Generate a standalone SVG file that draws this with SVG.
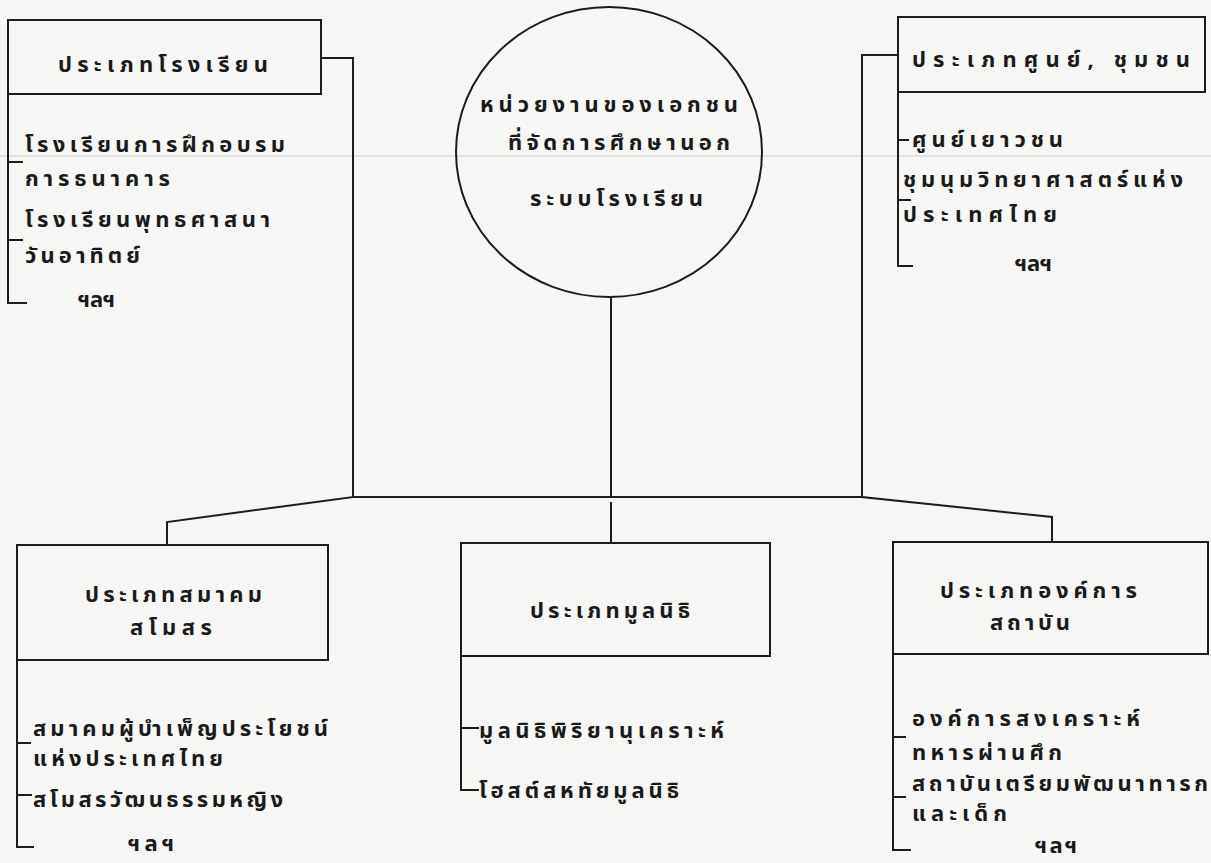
<svg xmlns="http://www.w3.org/2000/svg" width="1211" height="863" viewBox="0 0 1211 863">
<style>
.ln{fill:none;stroke:#1c1c1c;stroke-width:2;stroke-linecap:square;stroke-linejoin:miter}
.t{font-family:"Noto Sans Thai","Noto Sans Thai UI","Noto Looped Thai","Loma","Garuda","Norasi","Noto Sans","DejaVu Sans",sans-serif;font-size:22px;font-weight:bold;fill:#1a1a1a}
</style>
<rect width="1211" height="863" fill="#f6f6f4"/>
<line x1="0" y1="156" x2="1211" y2="156" stroke="#e2e2e0" stroke-width="2"/>
<g id="connectors">
<path class="ln" d="M321 58H353V497"/>
<path class="ln" d="M898 55H862V497"/>
<path class="ln" d="M353 497H862"/>
<path class="ln" d="M611 297V497"/>
<path class="ln" d="M611 503V543"/>
<path class="ln" d="M353 497L167 522V545"/>
<path class="ln" d="M862 497L1052 517V542"/>
</g>
<g id="node-school">
<rect class="ln" x="8" y="20" width="313" height="74"/>
<path class="ln" d="M8 94V303H26M8 162H22M8 240H22"/>
<text class="t" x="58" y="72" textLength="210" lengthAdjust="spacing">ประเภทโรงเรียน</text>
<text class="t" x="25" y="152" textLength="260" lengthAdjust="spacing">โรงเรียนการฝึกอบรม</text>
<text class="t" x="25" y="186" textLength="145" lengthAdjust="spacing">การธนาคาร</text>
<text class="t" x="25" y="227" textLength="245" lengthAdjust="spacing">โรงเรียนพุทธศาสนา</text>
<text class="t" x="25" y="263" textLength="115" lengthAdjust="spacing">วันอาทิตย์</text>
<text class="t" x="78" y="307" textLength="37" lengthAdjust="spacing">ฯลฯ</text>
</g>
<g id="node-center">
<ellipse class="ln" cx="609" cy="152" rx="153" ry="145"/>
<text class="t" x="480" y="112" textLength="258" lengthAdjust="spacing">หน่วยงานของเอกชน</text>
<text class="t" x="508" y="150" textLength="222" lengthAdjust="spacing">ที่จัดการศึกษานอก</text>
<text class="t" x="530" y="206" textLength="173" lengthAdjust="spacing">ระบบโรงเรียน</text>
</g>
<g id="node-community">
<rect class="ln" x="898" y="17" width="307" height="75"/>
<path class="ln" d="M898 92V266H912M898 140H908M898 200H910"/>
<text class="t" x="912" y="67" textLength="278" lengthAdjust="spacing">ประเภทศูนย์, ชุมชน</text>
<text class="t" x="912" y="147" textLength="151" lengthAdjust="spacing">ศูนย์เยาวชน</text>
<text class="t" x="903" y="187" textLength="280" lengthAdjust="spacing">ชุมนุมวิทยาศาสตร์แห่ง</text>
<text class="t" x="903" y="222" textLength="154" lengthAdjust="spacing">ประเทศไทย</text>
<text class="t" x="1015" y="271" textLength="37" lengthAdjust="spacing">ฯลฯ</text>
</g>
<g id="node-association">
<rect class="ln" x="17" y="545" width="311" height="115"/>
<path class="ln" d="M17 660V847H33M17 743H30M17 795H31"/>
<text class="t" x="85" y="602" textLength="177" lengthAdjust="spacing">ประเภทสมาคม</text>
<text class="t" x="130" y="635" textLength="82" lengthAdjust="spacing">สโมสร</text>
<text class="t" x="33" y="736" textLength="295" lengthAdjust="spacing">สมาคมผู้บำเพ็ญประโยชน์</text>
<text class="t" x="33" y="766" textLength="190" lengthAdjust="spacing">แห่งประเทศไทย</text>
<text class="t" x="33" y="807" textLength="250" lengthAdjust="spacing">สโมสรวัฒนธรรมหญิง</text>
<text class="t" x="128" y="851" textLength="46" lengthAdjust="spacing">ฯลฯ</text>
</g>
<g id="node-foundation">
<rect class="ln" x="461" y="543" width="309" height="113"/>
<path class="ln" d="M461 656V790H478M461 728H478"/>
<text class="t" x="530" y="618" textLength="160" lengthAdjust="spacing">ประเภทมูลนิธิ</text>
<text class="t" x="479" y="738" textLength="245" lengthAdjust="spacing">มูลนิธิพิริยานุเคราะห์</text>
<text class="t" x="479" y="798" textLength="200" lengthAdjust="spacing">โฮสต์สหทัยมูลนิธิ</text>
</g>
<g id="node-organization">
<rect class="ln" x="893" y="542" width="315" height="112"/>
<path class="ln" d="M893 654V850H910M893 737H905M893 797H905"/>
<text class="t" x="940" y="598" textLength="197" lengthAdjust="spacing">ประเภทองค์การ</text>
<text class="t" x="990" y="630" textLength="80" lengthAdjust="spacing">สถาบัน</text>
<text class="t" x="912" y="726" textLength="228" lengthAdjust="spacing">องค์การสงเคราะห์</text>
<text class="t" x="912" y="760" textLength="150" lengthAdjust="spacing">ทหารผ่านศึก</text>
<text class="t" x="912" y="791" textLength="296" lengthAdjust="spacing">สถาบันเตรียมพัฒนาทารก</text>
<text class="t" x="912" y="821" textLength="95" lengthAdjust="spacing">และเด็ก</text>
<text class="t" x="1035" y="853" textLength="42" lengthAdjust="spacing">ฯลฯ</text>
</g>
</svg>
